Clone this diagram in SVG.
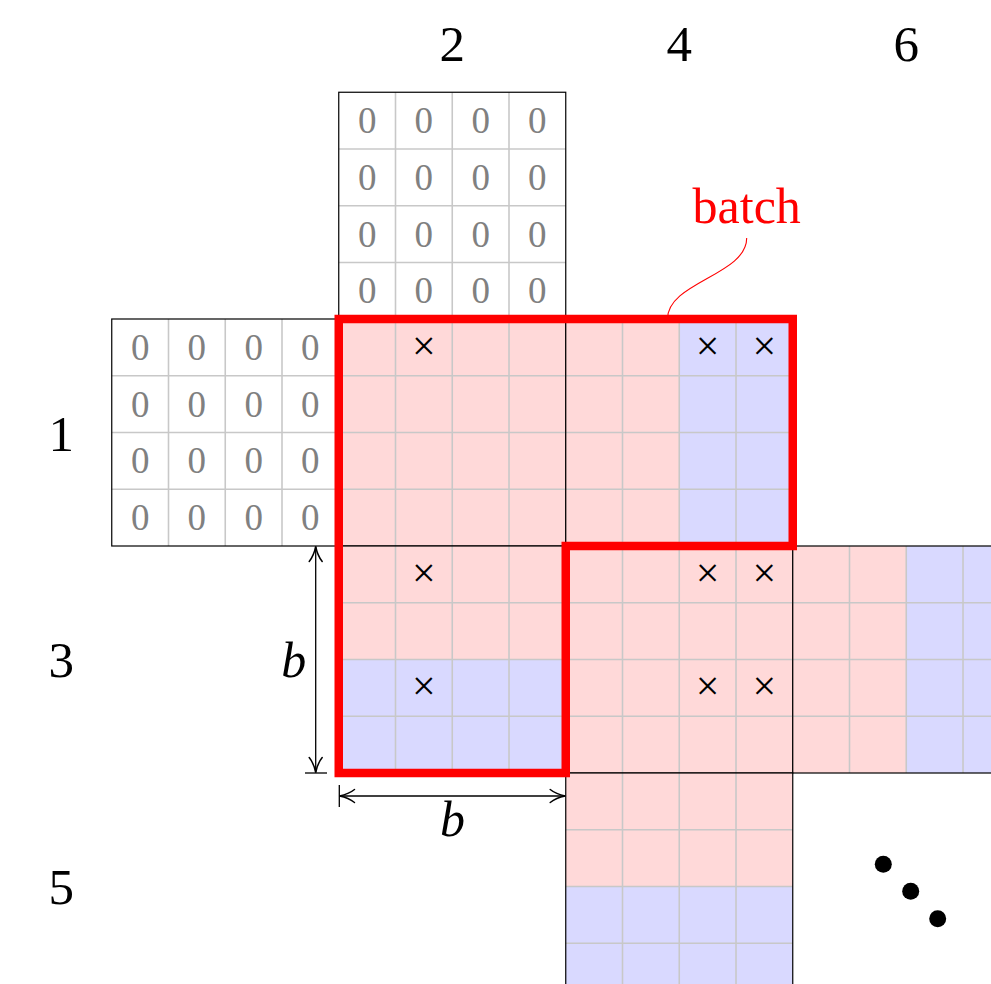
<svg xmlns="http://www.w3.org/2000/svg" xmlns:xlink="http://www.w3.org/1999/xlink" width="991" height="984" viewBox="0 0 991 984">
<style>
.lbl{font-size:51px;fill:#000;text-anchor:middle}
.it{font-size:50px;font-style:italic;fill:#000;text-anchor:middle}
.z{font-size:37px;fill:#808080;text-anchor:middle}
.x{font-size:42px;fill:#000;text-anchor:middle}
.pk{fill:#ffd9d9}
.bl{fill:#d9d9ff}
.wh{fill:#ffffff}
.bd{fill:none;stroke:#000;stroke-width:1.2}
.gl{stroke:#c8c8c8;stroke-width:1.6}
.dim{stroke:#000;stroke-width:1.3;fill:none}
</style>
<defs>
<g id="grid">
<line class="gl" x1="56.75" y1="0" x2="56.75" y2="227"/>
<line class="gl" x1="113.5" y1="0" x2="113.5" y2="227"/>
<line class="gl" x1="170.25" y1="0" x2="170.25" y2="227"/>
<line class="gl" x1="0" y1="56.75" x2="227" y2="56.75"/>
<line class="gl" x1="0" y1="113.5" x2="227" y2="113.5"/>
<line class="gl" x1="0" y1="170.25" x2="227" y2="170.25"/>
</g>
<g id="zeros" font-family="'Liberation Serif', serif">
<text class="z" font-family="'Liberation Serif', serif" x="28.4" y="40.9">0</text><text class="z" font-family="'Liberation Serif', serif" x="85.1" y="40.9">0</text><text class="z" font-family="'Liberation Serif', serif" x="141.9" y="40.9">0</text><text class="z" font-family="'Liberation Serif', serif" x="198.6" y="40.9">0</text>
<text class="z" font-family="'Liberation Serif', serif" x="28.4" y="97.6">0</text><text class="z" font-family="'Liberation Serif', serif" x="85.1" y="97.6">0</text><text class="z" font-family="'Liberation Serif', serif" x="141.9" y="97.6">0</text><text class="z" font-family="'Liberation Serif', serif" x="198.6" y="97.6">0</text>
<text class="z" font-family="'Liberation Serif', serif" x="28.4" y="154.4">0</text><text class="z" font-family="'Liberation Serif', serif" x="85.1" y="154.4">0</text><text class="z" font-family="'Liberation Serif', serif" x="141.9" y="154.4">0</text><text class="z" font-family="'Liberation Serif', serif" x="198.6" y="154.4">0</text>
<text class="z" font-family="'Liberation Serif', serif" x="28.4" y="211.1">0</text><text class="z" font-family="'Liberation Serif', serif" x="85.1" y="211.1">0</text><text class="z" font-family="'Liberation Serif', serif" x="141.9" y="211.1">0</text><text class="z" font-family="'Liberation Serif', serif" x="198.6" y="211.1">0</text>
</g>
<marker id="arr" viewBox="-17 -8 19 16" refX="0" refY="0" markerWidth="19" markerHeight="16" markerUnits="userSpaceOnUse" orient="auto-start-reverse">
<path d="M -15 -6.5 C -10 -2.5 -3 -0.6 0 0 C -3 0.6 -10 2.5 -15 6.5" fill="none" stroke="#000" stroke-width="1.5" stroke-linecap="round"/>
</marker>
</defs>
<rect width="991" height="984" fill="#fff"/>

<g id="block-top" transform="translate(338.75,92.25)">
<rect class="wh" width="227" height="227"/>
<use xlink:href="#grid"/>
<use xlink:href="#zeros"/>
<rect class="bd" width="227" height="227"/>
</g>
<g id="block-left" transform="translate(111.75,319)">
<rect class="wh" width="227" height="227"/>
<use xlink:href="#grid"/>
<use xlink:href="#zeros"/>
<rect class="bd" width="227" height="227"/>
</g>
<g id="block-11" transform="translate(338.75,319)">
<rect class="pk" width="227" height="227"/>
<use xlink:href="#grid"/>
<rect class="bd" width="227" height="227"/>
<text class="x" font-family="'Liberation Serif', serif" x="85.1" y="40.6">×</text>
</g>
<g id="block-21" transform="translate(565.75,319)">
<rect class="pk" width="113.5" height="227"/>
<rect class="bl" x="113.5" width="113.5" height="227"/>
<use xlink:href="#grid"/>
<rect class="bd" width="227" height="227"/>
<text class="x" font-family="'Liberation Serif', serif" x="141.9" y="40.6">×</text>
<text class="x" font-family="'Liberation Serif', serif" x="198.6" y="40.6">×</text>
</g>
<g id="block-12" transform="translate(338.75,546)">
<rect class="pk" width="227" height="113.5"/>
<rect class="bl" y="113.5" width="227" height="113.5"/>
<use xlink:href="#grid"/>
<rect class="bd" width="227" height="227"/>
<text class="x" font-family="'Liberation Serif', serif" x="85.1" y="40.6">×</text>
<text class="x" font-family="'Liberation Serif', serif" x="85.1" y="154.1">×</text>
</g>
<g id="block-22" transform="translate(565.75,546)">
<rect class="pk" width="227" height="227"/>
<use xlink:href="#grid"/>
<rect class="bd" width="227" height="227"/>
<text class="x" font-family="'Liberation Serif', serif" x="141.9" y="40.6">×</text>
<text class="x" font-family="'Liberation Serif', serif" x="198.6" y="40.6">×</text>
<text class="x" font-family="'Liberation Serif', serif" x="141.9" y="154.1">×</text>
<text class="x" font-family="'Liberation Serif', serif" x="198.6" y="154.1">×</text>
</g>
<g id="block-32" transform="translate(792.75,546)">
<rect class="pk" width="113.5" height="227"/>
<rect class="bl" x="113.5" width="113.5" height="227"/>
<use xlink:href="#grid"/>
<rect class="bd" width="227" height="227"/>
</g>
<g id="block-23" transform="translate(565.75,773)">
<rect class="pk" width="227" height="113.5"/>
<rect class="bl" y="113.5" width="227" height="113.5"/>
<use xlink:href="#grid"/>
<rect class="bd" width="227" height="227"/>
</g>

<g id="batch">
<path d="M 338.75 319 H 792.75 V 546 H 565.75 V 773 H 338.75 Z" fill="none" stroke="#ff0000" stroke-width="8.5" stroke-linejoin="miter"/>
<path d="M 667.5 319 C 667.5 282 746.7 275 746.7 238" fill="none" stroke="#ff0000" stroke-width="1.1"/>
<text x="746.7" y="223.3" font-family="'Liberation Serif', serif" font-size="50" fill="#ff0000" text-anchor="middle">batch</text>
</g>

<g id="connectors">
<line class="dim" x1="315.7" y1="546.5" x2="315.7" y2="772.5" marker-start="url(#arr)" marker-end="url(#arr)"/>
<line class="dim" x1="305" y1="773" x2="327" y2="773"/>
<line class="dim" x1="339.5" y1="796" x2="565.2" y2="796" marker-start="url(#arr)" marker-end="url(#arr)"/>
<line class="dim" x1="339.3" y1="785" x2="339.3" y2="807"/>
</g>

<g id="labels">
<text class="lbl" font-family="'Liberation Serif', serif" x="452.2" y="60.7">2</text>
<text class="lbl" font-family="'Liberation Serif', serif" x="679.2" y="60.7">4</text>
<text class="lbl" font-family="'Liberation Serif', serif" x="906.2" y="60.7">6</text>
<text class="lbl" font-family="'Liberation Serif', serif" x="61.2" y="450.7">1</text>
<text class="lbl" font-family="'Liberation Serif', serif" x="61.2" y="676.7">3</text>
<text class="lbl" font-family="'Liberation Serif', serif" x="61.2" y="904.3">5</text>
<text class="it" font-family="'Liberation Serif', serif" x="293.7" y="676.7">b</text>
<text class="it" font-family="'Liberation Serif', serif" x="452.5" y="836">b</text>
</g>

<g id="dots">
<circle cx="883.3" cy="864.3" r="8.5"/>
<circle cx="910.7" cy="891.3" r="8.5"/>
<circle cx="937.7" cy="918.7" r="8.5"/>
</g>
</svg>
